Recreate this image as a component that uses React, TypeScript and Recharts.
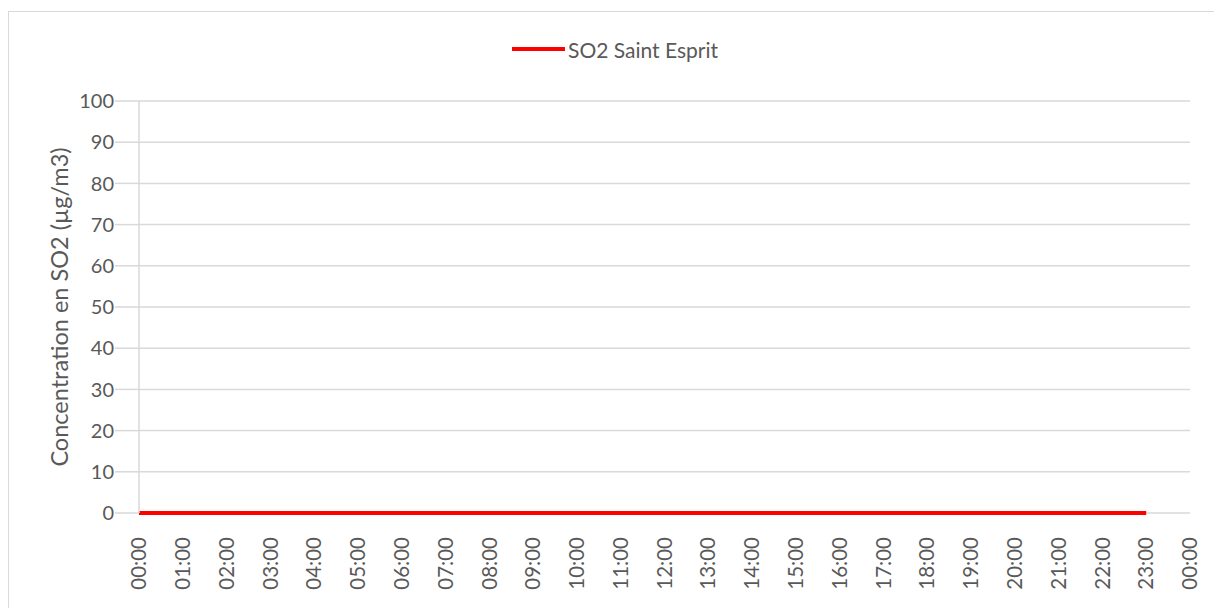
import React from "react";
import { LineChart, Line, XAxis, YAxis, CartesianGrid } from "recharts";

// heures de la journée (dernier point = minuit suivant, sans mesure)
const hours = [
  "00:00", "01:00", "02:00", "03:00", "04:00", "05:00", "06:00", "07:00",
  "08:00", "09:00", "10:00", "11:00", "12:00", "13:00", "14:00", "15:00",
  "16:00", "17:00", "18:00", "19:00", "20:00", "21:00", "22:00", "23:00", "00:00",
];

// SO2 Saint Esprit, µg/m3
const so2SaintEsprit: (number | null)[] = [
  0, 0, 0, 0, 0, 0, 0, 0, 0, 0, 0, 0, 0, 0, 0, 0, 0, 0, 0, 0, 0, 0, 0, 0, null,
];

const yTicks = [0, 10, 20, 30, 40, 50, 60, 70, 80, 90, 100];

const FONT = "Lato, 'Open Sans', sans-serif";
const INK = "#595959";
const GRID = "#d9d9d9";

const data = hours.map((h, i) => ({ key: i, hour: h, so2: so2SaintEsprit[i] }));

function HourTick(props: any) {
  const { x, y, payload } = props;
  return (
    <g transform={`translate(${x},${y + 16}) rotate(-90)`}>
      <text
        x={0}
        y={0}
        dy="0.35em"
        textAnchor="end"
        fill={INK}
        fontSize={20.5}
        fontFamily={FONT}
      >
        {hours[payload.value]}
      </text>
    </g>
  );
}

function YTitle(props: any) {
  const { viewBox } = props;
  const cx = 50;
  const cy = viewBox.y + viewBox.height / 2;
  return (
    <text
      x={cx}
      y={cy}
      transform={`rotate(-90, ${cx}, ${cy})`}
      textAnchor="middle"
      dominantBaseline="central"
      fill={INK}
      fontSize={23.5}
      fontFamily={FONT}
    >
      Concentration en SO2 (µg/m3)
    </text>
  );
}

export default function App() {
  return (
    <div
      style={{
        position: "absolute",
        left: 8,
        top: 11,
        width: 1205,
        height: 596,
        borderTop: `1px solid ${GRID}`,
        borderLeft: `1px solid ${GRID}`,
        background: "#fff",
        fontFamily: FONT,
      }}
    >
      <div
        style={{
          position: "absolute",
          left: 503,
          top: 25,
          height: 24,
          display: "flex",
          alignItems: "center",
          color: INK,
          fontSize: 21,
        }}
      >
        <span style={{ width: 53, height: 4, background: "#ff0000", marginRight: 3 }} />
        <span>SO2 Saint Esprit</span>
      </div>
      <LineChart
        width={1205}
        height={596}
        data={data}
        margin={{ top: 89, right: 24, bottom: 0, left: 0 }}
      >
        <CartesianGrid vertical={false} stroke={GRID} strokeWidth={1.5} />
        <XAxis
          dataKey="key"
          type="category"
          interval={0}
          height={95}
          axisLine={false}
          tickLine={false}
          tick={<HourTick />}
        />
        <YAxis
          width={130}
          domain={[0, 100]}
          ticks={yTicks}
          interval={0}
          axisLine={{ stroke: GRID, strokeWidth: 1.5 }}
          tickLine={{ stroke: GRID, strokeWidth: 1.5 }}
          tickSize={24}
          tickMargin={1}
          tick={{ fill: INK, fontSize: 20, fontFamily: FONT }}
          label={<YTitle />}
        />
        <Line
          dataKey="so2"
          type="linear"
          stroke="#ff0000"
          strokeWidth={4}
          dot={false}
          isAnimationActive={false}
        />
      </LineChart>
    </div>
  );
}
